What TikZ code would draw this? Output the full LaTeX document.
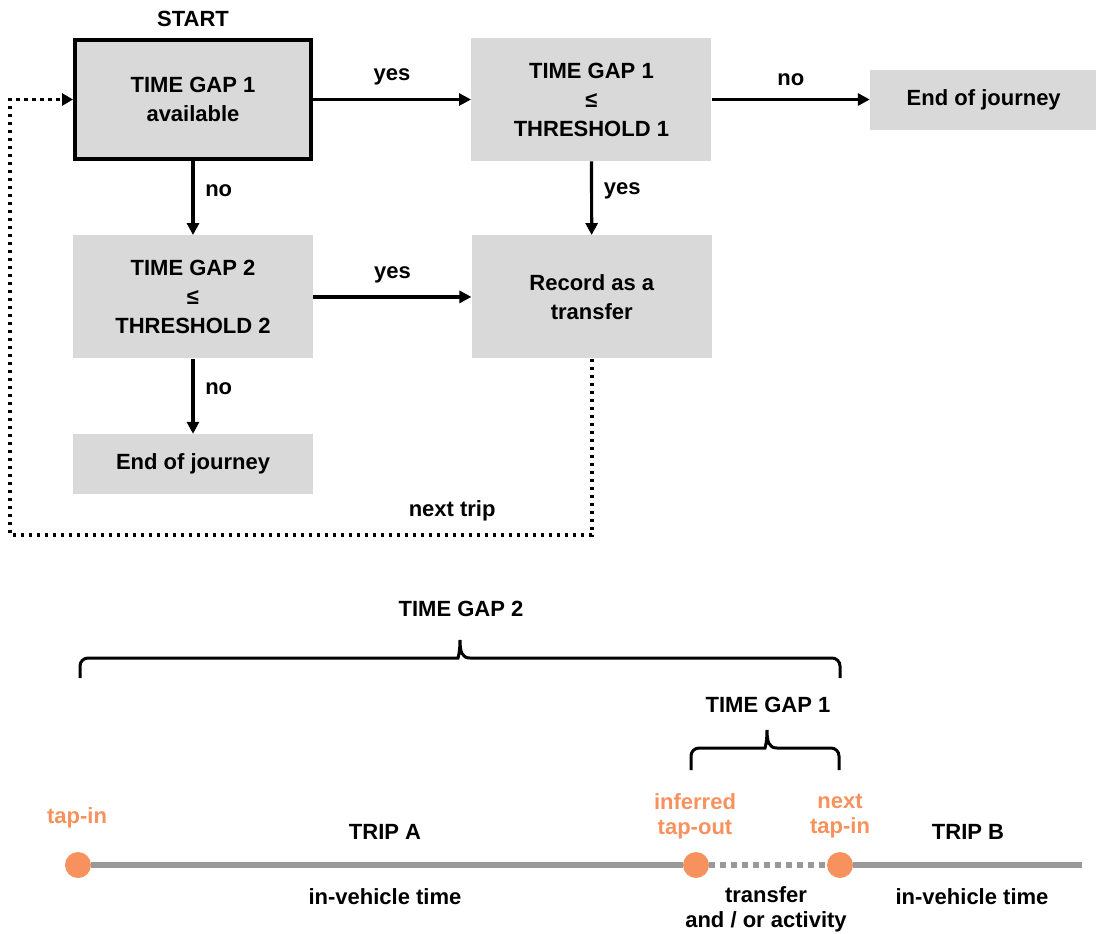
\documentclass[tikz,border=0pt]{standalone}
\usepackage{fontspec}
\setmainfont{Liberation Sans}
\usetikzlibrary{positioning,calc,arrows.meta}
\definecolor{boxgray}{HTML}{D9D9D9}
\definecolor{tapcol}{HTML}{F7925E}
\definecolor{linegray}{HTML}{999999}

\begin{document}
\begin{tikzpicture}[x=0.5pt,y=-0.5pt,
	font=\bfseries\fontsize{11}{14.5}\selectfont,
	stepbox/.style={fill=boxgray, minimum width=120pt, minimum height=61.5pt, align=center, inner sep=0pt},
	startbox/.style={stepbox, draw=black, line width=2pt, minimum width=118pt, minimum height=59.5pt},
	endbox/.style={fill=boxgray, minimum height=30pt, inner sep=0pt},
	flow/.style={line width=1.6pt, -{Triangle[length=6pt,width=6pt]}},
	loopline/.style={line width=1.75pt, dash pattern=on 1.75pt off 2.25pt, -{Triangle[length=5.5pt,width=6pt]}},
	tap/.style={circle, fill=tapcol, minimum size=13pt, inner sep=0pt},
	taplbl/.style={text=tapcol, align=center, font=\bfseries\fontsize{11}{12.5}\selectfont},
	timeline/.style={linegray, line width=3pt},
	bracketline/.style={line width=1.5pt}]
	\useasboundingbox (0,0) rectangle (1096,933);
	% decision flow
	\node[startbox] (avail) at (193,99.5) {TIME GAP 1\\available};
	\node[above=2pt of avail] (startlbl) {START};
	\node[stepbox, right=79pt of avail] (cmp1) {TIME GAP 1\\≤\\THRESHOLD 1};
	\node[endbox, minimum width=113.5pt, right=79pt of cmp1] (end1) {End of journey};
	\node[stepbox, below=37pt of avail] (cmp2) {TIME GAP 2\\≤\\THRESHOLD 2};
	\node[stepbox, right=79pt of cmp2] (record) {Record as a\\transfer};
	\node[endbox, minimum width=120pt, below=37.5pt of cmp2] (end2) {End of journey};
	\draw[flow] (avail) -- node[above=3pt] (yes1) {yes} (cmp1);
	\draw[flow] (cmp1) -- node[above=3pt] (no2) {no} (end1);
	\draw[flow] (avail) -- node[pos=0.4, right=2pt] (no1) {no} (cmp2);
	\draw[flow] (cmp1) -- node[pos=0.4, right=2pt] (yes2) {yes} (record);
	\draw[flow] (cmp2) -- node[above=3pt] (yes3) {yes} (record);
	\draw[flow] (cmp2) -- node[pos=0.4, right=2pt] (no3) {no} (end2);
	% loop back for the next trip
	\coordinate (loopcorner) at (10,535);
	\draw[loopline] (record.south) |- node[pos=0.62, above=3pt] (nexttrip) {next trip} (loopcorner) |- (avail.west);
	% time line
	\node[tap] (tapA) at (78,865) {};
	\node[tap] (tapout) at (696,865) {};
	\node[tap] (tapB) at (840,865) {};
	\coordinate (lineend) at (1082,865);
	\draw[timeline] (tapA) -- (tapout);
	\draw[timeline, dash pattern=on 3pt off 2.5pt] (tapout) -- (tapB);
	\draw[timeline] (tapB) -- (lineend);
	\node[taplbl] (tapinA) at (77,818) {tap-in};
	\node[taplbl] (tapoutlbl) at (695,816.5) {inferred\\tap-out};
	\node[taplbl] (tapinB) at (840,816.5) {next\\tap-in};
	\node (tripA) at (385,832) {TRIP A};
	\node (tripB) at (968,832) {TRIP B};
	\node (ivtA) at (385,897) {in-vehicle time};
	\node (ivtB) at (972,897) {in-vehicle time};
	\node[align=center, font=\bfseries\fontsize{11}{12.5}\selectfont] (transfer) at (766,909) {transfer\\and / or activity};
	% braces
	\coordinate (gap2L) at (80,678);
	\coordinate (gap2R) at (840,678);
	\coordinate (gap2tip) at (460,640);
	\draw[bracketline] (gap2L) [rounded corners=4pt] |- ($(gap2tip)+(-10,18)$) [sharp corners]
		.. controls ($(gap2tip)+(-2,18)$) and ($(gap2tip)+(0,12)$) .. (gap2tip)
		.. controls ($(gap2tip)+(0,12)$) and ($(gap2tip)+(2,18)$) .. ($(gap2tip)+(10,18)$)
		[rounded corners=4pt] -| (gap2R);
	\node (gap2lbl) at (461,609) {TIME GAP 2};
	\coordinate (gap1L) at (691,770);
	\coordinate (gap1R) at (839,770);
	\coordinate (gap1tip) at (767,730);
	\draw[bracketline] (gap1L) [rounded corners=4pt] |- ($(gap1tip)+(-10,18)$) [sharp corners]
		.. controls ($(gap1tip)+(-2,18)$) and ($(gap1tip)+(0,12)$) .. (gap1tip)
		.. controls ($(gap1tip)+(0,12)$) and ($(gap1tip)+(2,18)$) .. ($(gap1tip)+(10,18)$)
		[rounded corners=4pt] -| (gap1R);
	\node (gap1lbl) at (768,705) {TIME GAP 1};
\end{tikzpicture}
\end{document}
